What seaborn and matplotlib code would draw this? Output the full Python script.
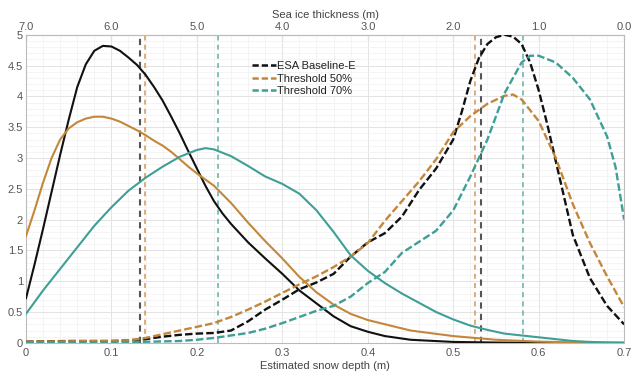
import numpy as np
import pandas as pd
import matplotlib
matplotlib.use("Agg")
import matplotlib.pyplot as plt
from matplotlib.lines import Line2D
from matplotlib.ticker import MultipleLocator, FuncFormatter
import seaborn as sns

# ---------------- data ----------------
# Estimated snow depth distributions (solid curves)
x_black_solid = [0, 0.01, 0.02, 0.03, 0.04, 0.05, 0.06, 0.07, 0.08, 0.09, 0.10, 0.11, 0.12, 0.13,
                 0.14, 0.15, 0.16, 0.17, 0.18, 0.19, 0.20, 0.21, 0.22, 0.23, 0.24, 0.26, 0.28, 0.30,
                 0.32, 0.34, 0.36, 0.38, 0.40, 0.42, 0.45, 0.50, 0.55, 0.60, 0.70]
y_black_solid = [0.72, 1.27, 1.85, 2.45, 3.05, 3.62, 4.15, 4.52, 4.74, 4.82, 4.81, 4.74, 4.63, 4.51,
                 4.35, 4.15, 3.93, 3.67, 3.40, 3.11, 2.83, 2.55, 2.30, 2.10, 1.93, 1.63, 1.37, 1.12,
                 0.85, 0.64, 0.43, 0.27, 0.18, 0.11, 0.05, 0.015, 0.005, 0.0, 0.0]

x_orange_solid = [0, 0.01, 0.02, 0.03, 0.04, 0.05, 0.06, 0.07, 0.08, 0.09, 0.10, 0.11, 0.12, 0.13,
                  0.14, 0.15, 0.16, 0.17, 0.18, 0.19, 0.20, 0.22, 0.24, 0.26, 0.28, 0.30, 0.32,
                  0.34, 0.36, 0.38, 0.40, 0.45, 0.50, 0.55, 0.60, 0.65, 0.70]
y_orange_solid = [1.73, 2.15, 2.60, 3.00, 3.30, 3.48, 3.58, 3.64, 3.67, 3.67, 3.64, 3.59, 3.52, 3.45,
                  3.37, 3.28, 3.20, 3.10, 2.98, 2.86, 2.75, 2.55, 2.27, 1.95, 1.65, 1.37, 1.07,
                  0.82, 0.62, 0.47, 0.37, 0.20, 0.11, 0.05, 0.02, 0.005, 0.0]

x_teal_solid = [0, 0.02, 0.04, 0.06, 0.08, 0.10, 0.12, 0.14, 0.16, 0.18, 0.20, 0.21, 0.22, 0.24,
                0.26, 0.28, 0.30, 0.32, 0.34, 0.36, 0.38, 0.40, 0.42, 0.44, 0.46, 0.48, 0.50,
                0.52, 0.54, 0.56, 0.58, 0.60, 0.62, 0.64, 0.66, 0.68, 0.70]
y_teal_solid = [0.47, 0.85, 1.20, 1.55, 1.90, 2.20, 2.47, 2.68, 2.86, 3.02, 3.13, 3.16, 3.14, 3.03,
                2.87, 2.70, 2.58, 2.42, 2.15, 1.80, 1.42, 1.17, 0.97, 0.80, 0.65, 0.50, 0.38,
                0.28, 0.21, 0.15, 0.12, 0.09, 0.06, 0.03, 0.015, 0.005, 0.0]

# Sea-ice thickness distributions (dashed curves, plotted on snow-depth axis)
x_black_dash = [0, 0.05, 0.10, 0.12, 0.14, 0.16, 0.18, 0.20, 0.22, 0.24, 0.26, 0.28, 0.30, 0.32,
                0.34, 0.36, 0.38, 0.40, 0.42, 0.44, 0.46, 0.48, 0.50, 0.51, 0.52, 0.53, 0.54,
                0.55, 0.56, 0.57, 0.58, 0.59, 0.60, 0.61, 0.62, 0.63, 0.64, 0.66, 0.68, 0.70]
y_black_dash = [0.02, 0.03, 0.03, 0.04, 0.06, 0.10, 0.13, 0.15, 0.16, 0.20, 0.35, 0.54, 0.70, 0.87,
                0.98, 1.12, 1.40, 1.63, 1.78, 2.05, 2.48, 2.83, 3.30, 3.75, 4.25, 4.62, 4.85,
                4.96, 5.00, 4.97, 4.85, 4.55, 4.10, 3.55, 2.95, 2.35, 1.75, 1.05, 0.60, 0.30]

x_orange_dash = [0, 0.10, 0.12, 0.14, 0.16, 0.18, 0.20, 0.22, 0.24, 0.26, 0.28, 0.30, 0.32, 0.34,
                 0.36, 0.38, 0.40, 0.42, 0.44, 0.46, 0.48, 0.50, 0.52, 0.54, 0.56, 0.57, 0.58,
                 0.60, 0.62, 0.64, 0.66, 0.68, 0.70]
y_orange_dash = [0.02, 0.03, 0.04, 0.08, 0.14, 0.20, 0.26, 0.32, 0.42, 0.54, 0.67, 0.81, 0.95, 1.08,
                 1.23, 1.40, 1.62, 1.98, 2.30, 2.62, 2.98, 3.42, 3.68, 3.88, 4.01, 4.03, 3.95,
                 3.60, 3.00, 2.25, 1.62, 1.08, 0.58]

x_teal_dash = [0, 0.10, 0.15, 0.18, 0.20, 0.22, 0.24, 0.26, 0.28, 0.30, 0.32, 0.34, 0.36, 0.38,
               0.40, 0.42, 0.44, 0.46, 0.48, 0.50, 0.52, 0.54, 0.56, 0.58, 0.59, 0.60, 0.62,
               0.64, 0.66, 0.68, 0.69, 0.70]
y_teal_dash = [0.01, 0.01, 0.02, 0.03, 0.05, 0.08, 0.12, 0.16, 0.23, 0.32, 0.42, 0.52, 0.60, 0.75,
               0.97, 1.15, 1.46, 1.64, 1.82, 2.15, 2.70, 3.30, 4.05, 4.55, 4.66, 4.66, 4.55,
               4.30, 3.95, 3.35, 2.85, 2.00]

# Mean values (vertical dashed lines)
mean_snow = {"ESA Baseline-E": 0.133, "Threshold 50%": 0.139, "Threshold 70%": 0.225}
mean_thick = {"ESA Baseline-E": 0.532, "Threshold 50%": 0.525, "Threshold 70%": 0.582}

series_names = ["ESA Baseline-E", "Threshold 50%", "Threshold 70%"]
colors = {"ESA Baseline-E": "#111111", "Threshold 50%": "#c4873a", "Threshold 70%": "#3e9f96"}
vcolors = {"ESA Baseline-E": "#555555", "Threshold 50%": "#d4a066", "Threshold 70%": "#6cb8b0"}

x_ticks = [0, 0.1, 0.2, 0.3, 0.4, 0.5, 0.6, 0.7]
y_ticks = [0, 0.5, 1, 1.5, 2, 2.5, 3, 3.5, 4, 4.5, 5]
top_ticks = [7.0, 6.0, 5.0, 4.0, 3.0, 2.0, 1.0, 0.0]

solid = {"ESA Baseline-E": (x_black_solid, y_black_solid),
         "Threshold 50%": (x_orange_solid, y_orange_solid),
         "Threshold 70%": (x_teal_solid, y_teal_solid)}
dashed = {"ESA Baseline-E": (x_black_dash, y_black_dash),
          "Threshold 50%": (x_orange_dash, y_orange_dash),
          "Threshold 70%": (x_teal_dash, y_teal_dash)}

# ---------------- plot ----------------
sns.set_style("white")
plt.rcParams["font.family"] = ["Liberation Sans", "DejaVu Sans"]

fig = plt.figure(figsize=(6.33, 3.78), dpi=100)
ax = fig.add_axes([0.041, 0.093, 0.945, 0.815])

ax.set_xlim(0, 0.7)
ax.set_ylim(0, 5)
ax.xaxis.set_minor_locator(MultipleLocator(0.02))
ax.yaxis.set_minor_locator(MultipleLocator(0.1))
ax.grid(True, which="major", color="#e3e3e3", lw=0.7)
ax.grid(True, which="minor", color="#f0f0f0", lw=0.5)
ax.set_axisbelow(True)

# vertical mean lines
for name in series_names:
    for val in (mean_snow[name], mean_thick[name]):
        lw = 1.5 if name == "ESA Baseline-E" else 1.2
        ax.axvline(val, color=vcolors[name], lw=lw, linestyle=(0, (3.0, 2.5)), zorder=2)

for name in series_names:
    xs, ys = solid[name]
    df = pd.DataFrame({"x": xs, "y": ys})
    sns.lineplot(data=df, x="x", y="y", ax=ax, color=colors[name], lw=1.5,
                 sort=False, estimator=None, zorder=3)
    xd, yd = dashed[name]
    dfd = pd.DataFrame({"x": xd, "y": yd})
    sns.lineplot(data=dfd, x="x", y="y", ax=ax, color=colors[name], lw=1.7,
                 sort=False, estimator=None, linestyle=(0, (3.2, 1.3)), zorder=3)

ax.set_xticks(x_ticks)
ax.set_yticks(y_ticks)
fmt = FuncFormatter(lambda v, p: ("%g" % round(v, 3)))
ax.xaxis.set_major_formatter(fmt)
ax.yaxis.set_major_formatter(fmt)
ax.tick_params(axis="both", which="major", direction="in", length=4, width=0.8,
               colors="#999999", labelcolor="#555555", labelsize=8)
ax.tick_params(axis="both", which="minor", length=0)
ax.tick_params(axis="x", pad=4)
ax.tick_params(axis="y", pad=2)
ax.set_xlabel("Estimated snow depth (m)", fontsize=8, color="#444444", labelpad=2)
ax.set_ylabel("")
for s in ax.spines.values():
    s.set_color("#bbbbbb")
    s.set_linewidth(0.8)

top = ax.secondary_xaxis("top", functions=(lambda x: 7 - 10 * np.asarray(x),
                                           lambda t: (7 - np.asarray(t)) / 10))
top.set_xticks(top_ticks)
top.xaxis.set_major_formatter(FuncFormatter(lambda v, p: "%.1f" % abs(v)))
top.tick_params(direction="in", length=4, width=0.8, colors="#999999",
                labelcolor="#555555", labelsize=8, pad=2)
top.set_xlabel("Sea ice thickness (m)", fontsize=8, color="#444444", labelpad=3)
top.spines["top"].set_color("#bbbbbb")

handles = [Line2D([0], [0], color=colors[n], lw=1.8, linestyle=(0, (2.5, 1.2))) for n in series_names]
leg = ax.legend(handles, series_names, loc="upper left", bbox_to_anchor=(0.37, 0.93),
                frameon=False, fontsize=8, handlelength=2.2, handletextpad=0.1,
                labelspacing=0.25, borderaxespad=0)
for t in leg.get_texts():
    t.set_color("#222222")

fig.savefig("out.png", dpi=100)
